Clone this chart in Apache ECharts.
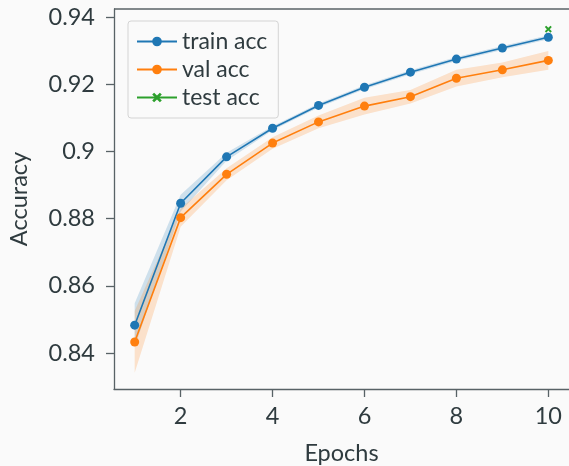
<!DOCTYPE html>
<html>
<head>
<meta charset="utf-8">
<script src="https://cdn.jsdelivr.net/npm/echarts@6/dist/echarts.min.js"></script>
<style>
  html, body { margin: 0; padding: 0; background: #fafafa; }
  #chart { width: 569px; height: 466px; }
</style>
</head>
<body>
<div id="chart"></div>
<script>
// Training curves: mean accuracy per epoch with ±std shaded bands
const epochs   = [1, 2, 3, 4, 5, 6, 7, 8, 9, 10];
const trainAcc = [0.8483, 0.8846, 0.8984, 0.9069, 0.9137, 0.9191, 0.9236, 0.9275, 0.9308, 0.9340];
const trainStd = [0.0065, 0.0025, 0.0012, 0.0006, 0.0006, 0.0006, 0.0006, 0.0006, 0.0006, 0.0006];
const valAcc   = [0.8433, 0.8803, 0.8932, 0.9025, 0.9088, 0.9135, 0.9163, 0.9218, 0.9243, 0.9271];
const valStd   = [0.0092, 0.0027, 0.0018, 0.0017, 0.0019, 0.0025, 0.0020, 0.0025, 0.0022, 0.0028];
const testEpoch = [10];
const testAcc   = [0.9364];

const yTicks = [0.84, 0.86, 0.88, 0.90, 0.92, 0.94];
const yTickLabels = ['0.84', '0.86', '0.88', '0.9', '0.92', '0.94'];
const xTicks = [2, 4, 6, 8, 10];
const xTickLabels = ['2', '4', '6', '8', '10'];

const BLUE = '#1f77b4', ORANGE = '#ff7f0e', GREEN = '#2ca02c';
const TEXT = '#2f3b3f', AXIS = '#586266';
const FONT = 'Lato';

const pairs = (xs, ys) => xs.map((x, i) => [x, ys[i]]);

// Band polygon: upper edge left→right, lower edge right→left
function bandSeries(mean, std, color) {
  return {
    type: 'custom',
    silent: true,
    z: 1,
    data: [[epochs[0], mean[0]]],
    renderItem: function (params, api) {
      const pts = [];
      for (let i = 0; i < epochs.length; i++) pts.push(api.coord([epochs[i], mean[i] + std[i]]));
      for (let i = epochs.length - 1; i >= 0; i--) pts.push(api.coord([epochs[i], mean[i] - std[i]]));
      return { type: 'polygon', shape: { points: pts }, style: { fill: color, opacity: 0.2 } };
    }
  };
}

const crossPath = 'path://M2,0 L5,3 L8,0 L10,2 L7,5 L10,8 L8,10 L5,7 L2,10 L0,8 L3,5 L0,2 Z';

const chart = echarts.init(document.getElementById('chart'));
chart.setOption({
  backgroundColor: '#fafafa',
  animation: false,
  textStyle: { fontFamily: FONT },
  grid: { left: 114, top: 9, width: 455, height: 380, containLabel: false, outerBoundsMode: 'none' },
  xAxis: {
    type: 'value', min: 0.55, max: 10.45,
    name: 'Epochs', nameLocation: 'middle', nameGap: 52,
    nameTextStyle: { color: TEXT, fontSize: 23.5, fontFamily: FONT },
    splitLine: { show: false },
    axisLine: { show: true, onZero: false, lineStyle: { color: AXIS, width: 1.3 } },
    axisTick: { show: true, length: 8, customValues: xTicks, lineStyle: { color: AXIS, width: 1.3 } },
    axisLabel: {
      customValues: xTicks, margin: 15, color: TEXT, fontSize: 23.5, fontFamily: FONT,
      formatter: v => xTickLabels[xTicks.indexOf(v)]
    }
  },
  yAxis: {
    type: 'value', min: 0.8293, max: 0.9424,
    name: 'Accuracy', nameLocation: 'middle', nameGap: 83,
    nameTextStyle: { color: TEXT, fontSize: 23.5, fontFamily: FONT },
    splitLine: { show: false },
    axisLine: { show: true, onZero: false, lineStyle: { color: AXIS, width: 1.3 } },
    axisTick: { show: true, length: 8, customValues: yTicks, lineStyle: { color: AXIS, width: 1.3 } },
    axisLabel: {
      customValues: yTicks, margin: 19, color: TEXT, fontSize: 23.5, fontFamily: FONT,
      formatter: v => {
        const i = yTicks.findIndex(t => Math.abs(t - v) < 1e-9);
        return i >= 0 ? yTickLabels[i] : '';
      }
    }
  },
  legend: {
    left: 128, top: 21,
    orient: 'vertical',
    padding: [9, 11, 9, 8],
    itemGap: 5,
    itemWidth: 40, itemHeight: 12,
    backgroundColor: '#fafafa',
    borderColor: '#d4d4d4', borderWidth: 1, borderRadius: 3,
    textStyle: { color: TEXT, fontSize: 23, fontFamily: FONT },
    data: ['train acc', 'val acc', 'test acc']
  },
  series: [
    bandSeries(trainAcc, trainStd, BLUE),
    bandSeries(valAcc, valStd, ORANGE),
    {
      name: 'train acc', type: 'line', z: 3,
      data: pairs(epochs, trainAcc),
      symbol: 'circle', symbolSize: 9, showSymbol: true,
      lineStyle: { color: BLUE, width: 1.6 },
      itemStyle: { color: BLUE }
    },
    {
      name: 'val acc', type: 'line', z: 3,
      data: pairs(epochs, valAcc),
      symbol: 'circle', symbolSize: 9, showSymbol: true,
      lineStyle: { color: ORANGE, width: 1.6 },
      itemStyle: { color: ORANGE }
    },
    {
      name: 'test acc', type: 'line', z: 4,
      data: pairs(testEpoch, testAcc),
      symbol: crossPath, symbolSize: 7, showSymbol: true,
      lineStyle: { color: GREEN, width: 1.6 },
      itemStyle: { color: GREEN }
    }
  ]
});

// Top spine of the axes box, placed through the y scale
const topY = chart.convertToPixel({ yAxisIndex: 0 }, 0.9424);
chart.setOption({
  graphic: [{
    type: 'line', z: 5, silent: true,
    shape: { x1: 114, y1: topY, x2: 569, y2: topY },
    style: { stroke: AXIS, lineWidth: 1.3 }
  }]
});
</script>
</body>
</html>
